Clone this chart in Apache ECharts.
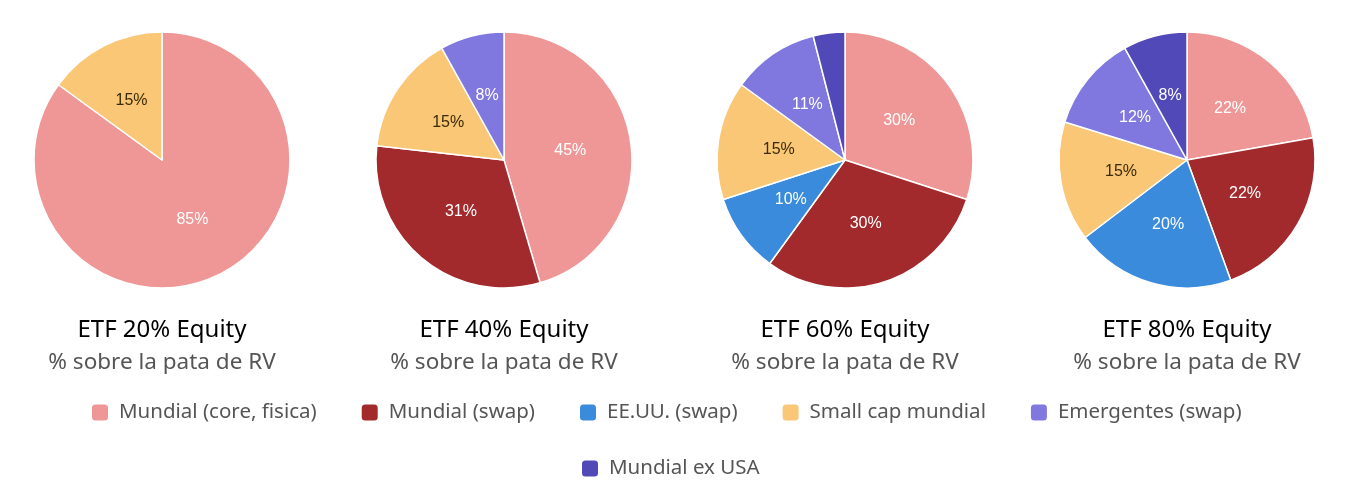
<!DOCTYPE html>
<html>
<head>
<meta charset="utf-8">
<script src="https://cdn.jsdelivr.net/npm/echarts@6/dist/echarts.min.js"></script>
<style>
  html, body { margin: 0; padding: 0; background: #fff; }
  #chart-container { width: 1350px; height: 482px; }
</style>
</head>
<body>
<div id="chart-container"></div>
<script>
var categories = ["Mundial (core, fisica)", "Mundial (swap)", "EE.UU. (swap)", "Small cap mundial", "Emergentes (swap)", "Mundial ex USA"];
var colors = ["#ef9696", "#a2292c", "#3a8bdc", "#f9c775", "#8078de", "#5249b8"];
var pieTitles = ["ETF 20% Equity", "ETF 40% Equity", "ETF 60% Equity", "ETF 80% Equity"];
var subTitle = "% sobre la pata de RV";

// values per portfolio, in the order of categories (null = not in that portfolio)
var etf20 = [85, null, null, 15, null, null];
var etf40 = [45, 31, null, 15, 8, null];
var etf60 = [30, 30, 10, 15, 11, 4];
var etf80 = [22, 22, 20, 15, 12, 8];
var portfolios = [etf20, etf40, etf60, etf80];

var centersX = [162, 504, 845, 1187];
var dom = document.getElementById("chart-container");
var myChart = echarts.init(dom, null, { renderer: "canvas" });

function buildData(values) {
  var out = [];
  values.forEach(function (v, i) {
    if (v === null) return;
    out.push({
      name: categories[i],
      value: v,
      itemStyle: { color: colors[i] },
      label: {
        show: v >= 5,
        color: i === 3 ? "#3a2a05" : "#ffffff"
      }
    });
  });
  return out;
}

var series = portfolios.map(function (vals, k) {
  return {
    type: "pie",
    center: [centersX[k], 160],
    radius: [0, 128],
    startAngle: 90,
    clockwise: true,
    avoidLabelOverlap: false,
    silent: true,
    itemStyle: { borderColor: "#fff", borderWidth: 1.5 },
    label: {
      position: "inside",
      formatter: "{c}%",
      fontFamily: "Liberation Sans, Arial, sans-serif",
      fontSize: 16
    },
    labelLine: { show: false },
    data: buildData(vals)
  };
});

var titles = pieTitles.map(function (t, k) {
  return {
    text: t,
    subtext: subTitle,
    left: centersX[k],
    top: 318,
    padding: 0,
    textAlign: "center",
    itemGap: 9,
    textStyle: { fontFamily: "Noto Sans", fontSize: 24, fontWeight: "normal", color: "#000" },
    subtextStyle: { fontFamily: "Noto Sans", fontSize: 22.5, color: "#555" }
  };
});

var legendStyle = {
  icon: "roundRect",
  itemWidth: 18,
  itemHeight: 18,
  itemGap: 43,
  padding: 0,
  textStyle: { fontFamily: "Noto Sans", fontSize: 20.5, color: "#555", padding: [0, 0, 0, 5] }
};

var option = {
  animation: false,
  title: titles,
  legend: [
    Object.assign({ data: categories.slice(0, 5), left: 90, top: 402 }, legendStyle),
    Object.assign({ data: categories.slice(5), left: 580, top: 458 }, legendStyle)
  ],
  series: series
};

myChart.setOption(option);
</script>
</body>
</html>
